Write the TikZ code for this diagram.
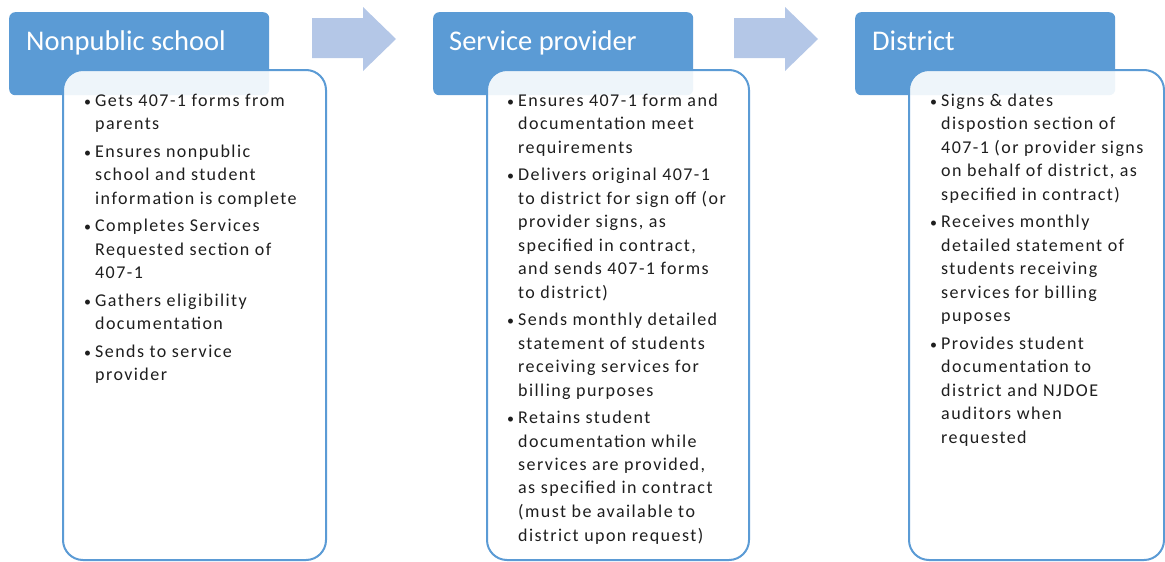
\documentclass[tikz,border=0pt]{standalone}
\usepackage{fontspec}
\setmainfont{Carlito}
\newfontfamily\cardfont{Carlito}[LetterSpace=8]
\usetikzlibrary{positioning}

\definecolor{headblue}{RGB}{91,155,213}
\definecolor{arrowblue}{RGB}{180,199,231}
\definecolor{listgray}{RGB}{30,30,30}

% bullet hung to the left of the line
\newcommand{\bul}{\leavevmode\llap{{\fontsize{14}{14}\selectfont\textbullet}\hspace{4pt}}}
% top-aligned block of hand-broken lines
\newcommand{\cardlines}[1]{\begin{minipage}[t]{250pt}\raggedright\parindent=0pt #1\end{minipage}}

\begin{document}
\begin{tikzpicture}[x=1pt, y=-1pt,
    header/.style={rectangle, rounded corners=6pt, fill=headblue, inner sep=0pt,
      minimum width=260pt, minimum height=83pt, anchor=north west},
    headtext/.style={text=white, inner sep=0pt, anchor=base west,
      font=\fontsize{28.5}{32}\selectfont},
    card/.style={rectangle, rounded corners=20pt, draw=headblue, line width=2pt,
      fill=white, fill opacity=0.9, inner sep=0pt, minimum height=490pt, anchor=north west},
    cardtext/.style={text=listgray, inner sep=0pt, anchor=base west,
      font=\cardfont\fontsize{18}{23.5}\selectfont}]

    \useasboundingbox (0,0) rectangle (1165,562);

    % Arrows
    \foreach \ax in {312, 734} {
        \fill[arrowblue] (\ax,18) -- (\ax+51,18) -- (\ax+51,7) -- (\ax+84,39)
            -- (\ax+51,71) -- (\ax+51,58) -- (\ax,58) -- cycle;
    }

    % Headers
    \node (head1) [header] at (9,12) {};
    \node (head2) [header] at (433,12) {};
    \node (head3) [header] at (855,12) {};

    % Cards
    \node (card1) [card, minimum width=263pt] at (62,69) {};
    \node (card2) [card, minimum width=262pt] at (486,69) {};
    \node (card3) [card, minimum width=255pt] at (908,69) {};

    % Titles
    \node (title1) [headtext] at (26,50) {Nonpublic school};
    \node (title2) [headtext] at (449,50) {Service provider};
    \node (title3) [headtext] at (872,50) {District};

    % Lists
    \node (list1) [cardtext] at (95,106) {\cardlines{%
        \bul Gets 407-1 forms from\\
        parents\\[4pt]
        \bul Ensures nonpublic\\
        school and student\\
        information is complete\\[4pt]
        \bul Completes Services\\
        Requested section of\\
        407-1\\[4pt]
        \bul Gathers eligibility\\
        documentation\\[4pt]
        \bul Sends to service\\
        provider}};

    \node (list2) [cardtext] at (518,106) {\cardlines{%
        \bul Ensures 407-1 form and\\
        documentation meet\\
        requirements\\[4pt]
        \bul Delivers original 407-1\\
        to district for sign off (or\\
        provider signs, as\\
        specified in contract,\\
        and sends 407-1 forms\\
        to district)\\[4pt]
        \bul Sends monthly detailed\\
        statement of students\\
        receiving services for\\
        billing purposes\\[4pt]
        \bul Retains student\\
        documentation while\\
        services are provided,\\
        as specified in contract\\
        (must be available to\\
        district upon request)}};

    \node (list3) [cardtext] at (941,106) {\cardlines{%
        \bul Signs \& dates\\
        dispostion section of\\
        407-1 (or provider signs\\
        on behalf of district, as\\
        specified in contract)\\[4pt]
        \bul Receives monthly\\
        detailed statement of\\
        students receiving\\
        services for billing\\
        puposes\\[4pt]
        \bul Provides student\\
        documentation to\\
        district and NJDOE\\
        auditors when\\
        requested}};

\end{tikzpicture}
\end{document}
